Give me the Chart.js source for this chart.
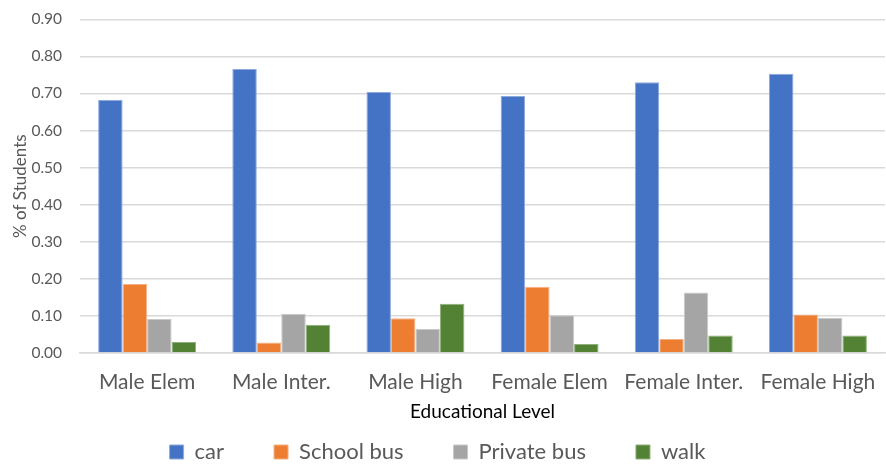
<!DOCTYPE html>
<html><head><meta charset="utf-8">
<script src="https://cdn.jsdelivr.net/npm/chart.js@4"></script>
<style>html,body{margin:0;padding:0;background:#fff}#wrap{width:886px;height:465px}</style>
</head><body><div id="wrap"><canvas id="c" width="886" height="465"></canvas></div>
<script>
const categories = ["Male Elem","Male Inter.","Male High","Female Elem","Female Inter.","Female High"];
const car = [0.683,0.766,0.704,0.693,0.730,0.753];
const schoolBus = [0.186,0.028,0.094,0.179,0.038,0.104];
const privateBus = [0.092,0.106,0.065,0.102,0.163,0.095];
const walk = [0.030,0.076,0.133,0.024,0.047,0.047];
const seriesNames = ["car","School bus","Private bus","walk"];
const colors = ["#4472C4","#ED7D31","#A5A5A5","#548235"];
const borders = ["#8eaadb","#f4b183","#c9c9c9","#8fb07a"];
const all = [car, schoolBus, privateBus, walk];
const FONT = "Lato, 'Open Sans', sans-serif";
const LEGEND_H = 36, LEGEND_SHIFT = 38, LEGEND_DX = 10;
const legendFix = {
  id: 'legendFix',
  afterInit(chart) {
    const lg = chart.legend;
    const origFit = lg.fit.bind(lg);
    lg.fit = function() { origFit(); this.height = LEGEND_H; };
    const origDraw = lg.draw.bind(lg);
    lg.draw = function(area) {
      const t = this.top, l = this.left, r = this.right;
      this.top = t - LEGEND_SHIFT; this.left = l - LEGEND_DX; this.right = r - LEGEND_DX;
      origDraw(area);
      this.top = t; this.left = l; this.right = r;
    };
  }
};
new Chart(document.getElementById('c'), {
  type: 'bar',
  data: {
    labels: categories,
    datasets: all.map((d,i)=>({label: seriesNames[i], data: d, backgroundColor: colors[i], borderColor: borders[i], borderWidth: 1, categoryPercentage: 0.73, barPercentage: 1.0}))
  },
  plugins: [legendFix],
  options: {
    responsive: false, animation: false,
    layout: {padding: {top: 2, right: 1, left: 10, bottom: 0}},
    plugins: {
      tooltip: {enabled:false},
      legend: {position:'bottom', labels: {font:{family:FONT,size:22}, color:'#595959', boxWidth:14, boxHeight:14, padding: 50}},
    },
    scales: {
      x: {
        afterFit(s) { s.paddingRight = 0; s.paddingLeft = 0; },
        grid: {display:false, drawTicks:false},
        border: {color:'#d9d9d9', width: 1.5},
        ticks: {font:{family:FONT,size:21}, color:'#595959', padding: 17},
        title: {display:true, text:'Educational Level', font:{family:FONT,size:19}, color:'#000', padding:{top:-12,bottom:6}}
      },
      y: {
        min: 0, max: 0.9,
        ticks: {stepSize: 0.1, callback: v => v.toFixed(2), font:{family:FONT,size:15.5}, color:'#595959', padding: 10},
        grid: {color:'#d9d9d9', lineWidth: 1.5, drawTicks:true, tickLength: 8, tickColor:'rgba(0,0,0,0)'},
        border: {display:false},
        title: {display:true, text:'% of Students', font:{family:FONT,size:17}, color:'#595959', padding:{top:0,bottom:-9}}
      }
    }
  }
});
</script></body></html>
